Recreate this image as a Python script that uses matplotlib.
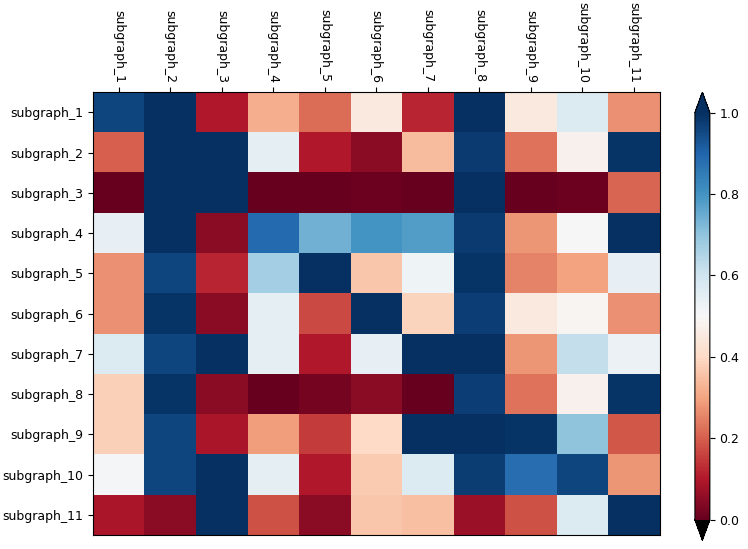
import numpy as np
import matplotlib
matplotlib.use("Agg")
import matplotlib.pyplot as plt

labels = ["subgraph_%d" % i for i in range(1, 12)]

row_1 = [0.96, 1.00, 0.10, 0.32, 0.22, 0.45, 0.12, 1.00, 0.45, 0.57, 0.27]
row_2 = [0.20, 1.00, 1.00, 0.55, 0.10, 0.05, 0.34, 0.98, 0.23, 0.48, 0.99]
row_3 = [0.00, 1.00, 1.00, 0.00, 0.00, 0.01, 0.00, 1.00, 0.00, 0.01, 0.21]
row_4 = [0.54, 1.00, 0.05, 0.89, 0.74, 0.80, 0.78, 0.98, 0.28, 0.50, 1.00]
row_5 = [0.27, 0.96, 0.12, 0.67, 1.00, 0.36, 0.52, 0.99, 0.25, 0.30, 0.54]
row_6 = [0.27, 0.99, 0.05, 0.55, 0.17, 1.00, 0.39, 0.97, 0.45, 0.49, 0.27]
row_7 = [0.57, 0.96, 1.00, 0.55, 0.10, 0.54, 1.00, 1.00, 0.28, 0.62, 0.53]
row_8 = [0.38, 0.99, 0.05, 0.00, 0.02, 0.05, 0.00, 0.97, 0.23, 0.48, 0.99]
row_9 = [0.38, 0.96, 0.09, 0.29, 0.15, 0.40, 1.00, 1.00, 0.99, 0.70, 0.19]
row_10 = [0.51, 0.96, 1.00, 0.55, 0.10, 0.37, 0.57, 0.975, 0.88, 0.96, 0.28]
row_11 = [0.09, 0.05, 1.00, 0.18, 0.05, 0.36, 0.35, 0.07, 0.18, 0.57, 1.00]

data = np.array([row_1, row_2, row_3, row_4, row_5, row_6,
                 row_7, row_8, row_9, row_10, row_11])

cmap = plt.get_cmap("RdBu").copy()
cmap.set_under("black")

fig = plt.figure(figsize=(7.48, 5.49), dpi=100)
ax = fig.add_axes([0.124, 0.0255, 0.758, 0.8065])
im = ax.imshow(data, cmap=cmap, vmin=0, vmax=1, aspect="auto",
               interpolation="nearest")

ax.set_xticks(range(len(labels)))
ax.set_yticks(range(len(labels)))
ax.set_xticklabels(labels, rotation=-90)
ax.set_yticklabels(labels)
ax.xaxis.tick_top()
ax.tick_params(axis="both", labelsize=9)

cax = fig.add_axes([0.929, 0.016, 0.020, 0.816])
cb = fig.colorbar(im, cax=cax, extend="both")
cb.set_ticks([0.0, 0.2, 0.4, 0.6, 0.8, 1.0])
cb.ax.tick_params(labelsize=9)

fig.savefig("out.png", dpi=100)
